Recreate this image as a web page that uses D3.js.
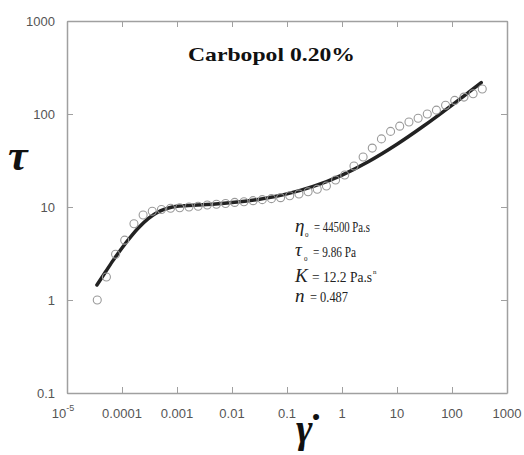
<!DOCTYPE html>
<html lang="en">
<head>
<meta charset="UTF-8">
<title>Carbopol 0.20% flow curve</title>
<script src="https://d3js.org/d3.v7.min.js"></script>
<style>
  body { margin: 0; background: #fff; }
  svg text { font-family: "Liberation Sans", Arial, sans-serif; }
</style>
</head>
<body>
<script>
// measured points: shear rate (1/s) and shear stress (Pa)
var rateData = [3.55e-5, 5.21e-5, 7.64e-5, 1.12e-4, 1.65e-4, 2.42e-4, 3.55e-4, 5.21e-4, 7.64e-4,
  1.12e-3, 1.65e-3, 2.42e-3, 3.55e-3, 5.21e-3, 7.64e-3, 0.0112, 0.0165, 0.0242, 0.0355, 0.0521,
  0.0764, 0.112, 0.165, 0.242, 0.355, 0.521, 0.764, 1.12, 1.65, 2.42, 3.55, 5.21, 7.64, 11.2,
  16.5, 24.2, 35.5, 52.1, 76.4, 112, 165, 242, 355];
var stressData = [1.0, 1.77, 3.1, 4.4, 6.6, 8.2, 9.0, 9.4, 9.7,
  9.8, 10.0, 10.2, 10.5, 10.7, 10.9, 11.2, 11.4, 11.7, 12.0, 12.3,
  12.6, 13.2, 13.8, 14.6, 15.5, 16.8, 19.5, 22.1, 27.6, 34.5, 43, 54, 65, 74,
  82, 90, 100, 110, 124, 140, 152, 165, 186];

// fitted curve
var rateFit = [3.5e-5, 5e-5, 7e-5, 1e-4, 1.5e-4, 2e-4, 3e-4, 4e-4, 5e-4, 7e-4, 1e-3, 2e-3,
  5e-3, 0.01, 0.03, 0.1, 0.3, 1, 3, 10, 30, 100, 200, 340];
var stressFit = [1.45, 2.0, 2.7, 3.63, 4.93, 5.98, 7.5, 8.47, 9.1, 9.77, 10.17, 10.45,
  10.78, 11.15, 12.07, 13.84, 16.65, 22.06, 30.7, 47.3, 73.8, 124.8, 170.9, 218];

var xTicks = [1e-5, 1e-4, 1e-3, 1e-2, 0.1, 1, 10, 100, 1000];
var xTickLabels = ["10", "0.0001", "0.001", "0.01", "0.1", "1", "10", "100", "1000"];
var yTicks = [0.1, 1, 10, 100, 1000];
var yTickLabels = ["0.1", "1", "10", "100", "1000"];

var title = "Carbopol 0.20%";

var width = 524, height = 455;
var margin = { top: 21, right: 17, bottom: 62, left: 67 };
var w = width - margin.left - margin.right,
    h = height - margin.top - margin.bottom;

var svg = d3.select("body").append("svg")
    .attr("width", width)
    .attr("height", height);

var g = svg.append("g")
    .attr("transform", "translate(" + margin.left + "," + margin.top + ")");

var x = d3.scaleLog().domain([1e-5, 1000]).range([0, w]);
var y = d3.scaleLog().domain([0.1, 1000]).range([h, 0]);

var axisColor = "#a0a0a0", labelColor = "#555";

// frame with inward ticks on all four sides
function styleAxis(sel) {
    sel.select(".domain").attr("stroke", axisColor).attr("stroke-width", 1.5);
    sel.selectAll(".tick line").attr("stroke", axisColor).attr("stroke-width", 1);
    sel.selectAll(".tick text").remove();
}
g.append("g").attr("transform", "translate(0," + h + ")")
    .call(d3.axisBottom(x).tickValues(xTicks).tickSize(-6).tickSizeOuter(0)).call(styleAxis);
g.append("g")
    .call(d3.axisTop(x).tickValues(xTicks).tickSize(-6).tickSizeOuter(0)).call(styleAxis);
g.append("g")
    .call(d3.axisLeft(y).tickValues(yTicks).tickSize(-6).tickSizeOuter(0)).call(styleAxis);
g.append("g").attr("transform", "translate(" + w + ",0)")
    .call(d3.axisRight(y).tickValues(yTicks).tickSize(-6).tickSizeOuter(0)).call(styleAxis);

// tick labels
g.selectAll(".ylab").data(yTicks).enter().append("text")
    .attr("class", "ylab")
    .attr("x", -12)
    .attr("y", d => y(d) + 5)
    .attr("text-anchor", "end")
    .attr("fill", labelColor)
    .attr("font-size", 13)
    .text((d, i) => yTickLabels[i]);

var xl = g.selectAll(".xlab").data(xTicks).enter().append("text")
    .attr("class", "xlab")
    .attr("x", d => x(d))
    .attr("y", h + 25)
    .attr("text-anchor", "middle")
    .attr("fill", labelColor)
    .attr("font-size", 13);
xl.filter((d, i) => i > 0).text((d, i) => xTickLabels[i + 1]);
xl.filter((d, i) => i === 0).attr("x", x(xTicks[0]) - 4)
    .call(t => {
        t.append("tspan").text(xTickLabels[0]);
        t.append("tspan").attr("font-size", 9).attr("dy", -7).text("-5");
    });

// fitted curve
var line = d3.line()
    .x((d, i) => x(rateFit[i]))
    .y((d, i) => y(stressFit[i]))
    .curve(d3.curveMonotoneX);

g.append("path")
    .datum(rateFit)
    .attr("fill", "none")
    .attr("stroke", "#222")
    .attr("stroke-width", 3.5)
    .attr("stroke-linecap", "round")
    .attr("d", line);

// measured points
g.selectAll(".pt").data(rateData).enter().append("circle")
    .attr("class", "pt")
    .attr("cx", d => x(d))
    .attr("cy", (d, i) => y(stressData[i]))
    .attr("r", 4)
    .attr("fill", "none")
    .attr("stroke", "#9a9a9a")
    .attr("stroke-width", 1.1);

var serif = "'Liberation Serif', 'Times New Roman', serif";

// title
svg.append("text")
    .attr("x", 188).attr("y", 61)
    .attr("textLength", 167).attr("lengthAdjust", "spacingAndGlyphs")
    .style("font-family", serif)
    .attr("font-weight", "bold")
    .attr("font-size", 19)
    .attr("fill", "#111")
    .text(title);

// axis labels
svg.append("text")
    .attr("x", 8).attr("y", 170)
    .style("font-family", serif)
    .attr("font-weight", "bold").attr("font-style", "italic")
    .attr("font-size", 44)
    .attr("fill", "#111")
    .text("τ");

svg.append("text")
    .attr("x", 296).attr("y", 442)
    .style("font-family", serif)
    .attr("font-style", "italic")
    .attr("font-weight", "bold")
    .attr("font-size", 40)
    .attr("fill", "#111")
    .text("γ\u0307");

// fit parameters
function put(px, py, str, size, opts) {
    var t = svg.append("text")
        .attr("x", px).attr("y", py)
        .style("font-family", serif)
        .attr("font-size", size)
        .attr("fill", "#222")
        .text(str);
    if (opts && opts.italic) t.attr("font-style", "italic");
    if (opts && opts.len) t.attr("textLength", opts.len).attr("lengthAdjust", "spacingAndGlyphs");
    return t;
}
put(295, 232, "η", 19, { italic: true });
put(305, 237, "0", 7);
put(314, 232, "= 44500 Pa.s", 14, { len: 56 });
put(295, 256, "τ", 19, { italic: true });
put(304, 261, "0", 7);
put(313, 257, "= 9.86 Pa", 14, { len: 43 });
put(295, 282, "K", 19, { italic: true });
put(312, 282, "= 12.2 Pa.s", 14, { len: 60 });
put(373, 274, "n", 7);
put(295, 302, "n", 19, { italic: true });
put(310, 302, "= 0.487", 14, { len: 38 });
</script>
</body>
</html>
